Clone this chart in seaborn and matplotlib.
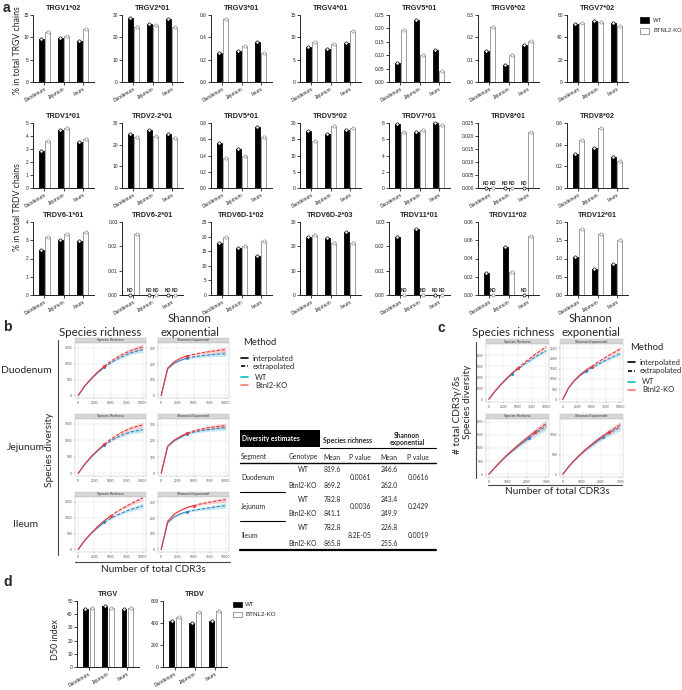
import numpy as np
import pandas as pd
import matplotlib
matplotlib.use('Agg')
import matplotlib.pyplot as plt
from matplotlib.lines import Line2D
from matplotlib.patches import Rectangle
import seaborn as sns

# ---------------------------------------------------------
# Data
# ---------------------------------------------------------
SEGMENTS = ['Duodenum', 'Jejunum', 'Ileum']
GENOTYPES = ['WT', 'BTNL2-KO']

# panel a, % of chains (None = not detected)
TRGV_GENES = ['TRGV1*02', 'TRGV2*01', 'TRGV3*01', 'TRGV4*01', 'TRGV5*01', 'TRGV6*02', 'TRGV7*02']
TRGV_WT = [[9.6, 9.8, 9.1], [28.5, 25.8, 28.0], [0.26, 0.28, 0.36], [7.8, 7.5, 8.7],
           [0.07, 0.23, 0.12], [0.14, 0.075, 0.165], [52.0, 55.0, 52.5]]
TRGV_KO = [[11.1, 10.2, 11.8], [24.7, 25.6, 24.8], [0.56, 0.32, 0.26], [9.0, 8.6, 11.4],
           [0.195, 0.10, 0.04], [0.245, 0.12, 0.185], [53.0, 54.0, 50.5]]
TRGV_MAX = [15, 30, 0.6, 15, 0.25, 0.3, 60]
TRGV_STEP = [5, 10, 0.2, 5, 0.05, 0.1, 20]

TRDV_GENES = ['TRDV1*01', 'TRDV2-2*01', 'TRDV5*01', 'TRDV5*02', 'TRDV7*01', 'TRDV8*01', 'TRDV8*02',
              'TRDV6-1*01', 'TRDV6-2*01', 'TRDV6D-1*02', 'TRDV6D-2*03', 'TRDV11*01', 'TRDV11*02', 'TRDV12*01']
TRDV_WT = [[2.85, 4.5, 3.55], [25.0, 27.0, 25.0], [0.55, 0.48, 0.75], [17.5, 16.5, 18.0],
           [7.9, 6.9, 8.0], [None, None, None], [0.31, 0.37, 0.29],
           [2.45, 3.0, 2.95], [None, None, None], [17.8, 16.0, 13.2], [23.8, 23.3, 26.0],
           [0.024, 0.027, None], [0.024, 0.053, None], [1.05, 0.70, 0.85]]
TRDV_KO = [[3.6, 4.6, 3.75], [23.5, 24.0, 23.0], [0.37, 0.40, 0.63], [14.5, 19.0, 18.5],
           [6.9, 7.2, 7.8], [None, None, 0.0215], [0.44, 0.55, 0.25],
           [3.2, 3.35, 3.45], [0.025, None, None], [20.0, 16.8, 18.5], [24.5, 21.5, 21.5],
           [None, None, None], [None, 0.025, 0.065], [1.82, 1.68, 1.52]]
TRDV_MAX = [5, 30, 0.8, 20, 8, 0.025, 0.6, 4, 0.03, 25, 30, 0.03, 0.08, 2.0]
TRDV_STEP = [1, 10, 0.2, 5, 2, 0.005, 0.2, 1, 0.01, 5, 10, 0.01, 0.02, 0.5]

# panel b, rarefaction curves (x grid, values per segment)
N_B = [0, 1000, 2000, 3000, 4000, 5000, 6000, 7000, 8000, 9000, 10000]
duo_rich_wt = [0, 290, 515, 710, 880, 1020, 1140, 1240, 1330, 1390, 1440]
duo_rich_ko = [0, 295, 530, 735, 915, 1070, 1200, 1310, 1400, 1470, 1530]
duo_shan_wt = [0, 170, 205, 225, 238, 246, 252, 257, 261, 264, 267]
duo_shan_ko = [0, 175, 215, 238, 252, 262, 270, 277, 283, 288, 292]
jej_rich_wt = [0, 270, 490, 680, 850, 980, 1090, 1180, 1250, 1290, 1320]
jej_rich_ko = [0, 280, 510, 700, 880, 1030, 1160, 1270, 1360, 1420, 1470]
jej_shan_wt = [0, 165, 200, 222, 244, 254, 262, 268, 273, 278, 282]
jej_shan_ko = [0, 168, 205, 228, 248, 261, 271, 279, 285, 290, 294]
ile_rich_wt = [0, 280, 500, 680, 850, 970, 1080, 1170, 1250, 1310, 1370]
ile_rich_ko = [0, 280, 510, 720, 900, 1050, 1190, 1310, 1420, 1520, 1620]
ile_shan_wt = [0, 170, 208, 228, 242, 250, 257, 263, 269, 275, 280]
ile_shan_ko = [0, 180, 225, 250, 268, 280, 290, 298, 305, 312, 318]
OBS_IDX_B_WT = [4, 4, 4]
OBS_IDX_B_KO = [4, 4, 5]
BAND_RICH_B = [0, 4, 8, 12, 18, 26, 36, 48, 60, 72, 85]
BAND_SHAN_B = [0, 2, 3, 4, 5, 7, 9, 11, 13, 15, 17]

# panel c, TRG (top) and TRD (bottom) curves
N_C_TOP = [0, 1000, 2000, 3000, 4000, 5000, 6000, 7000, 8000, 9000, 10000]
N_C_BOT = [0, 300, 600, 900, 1200, 1500, 1800, 2100, 2400, 2700, 3000]
trg_rich_wt = [0, 680, 1260, 1790, 2280, 2700, 3100, 3460, 3800, 4110, 4400]
trg_rich_ko = [0, 690, 1290, 1840, 2350, 2800, 3230, 3640, 4030, 4400, 4750]
trg_shan_wt = [0, 550, 900, 1160, 1360, 1530, 1690, 1840, 1980, 2110, 2230]
trg_shan_ko = [0, 560, 920, 1200, 1420, 1600, 1790, 1970, 2140, 2300, 2460]
trd_rich_wt = [0, 240, 470, 680, 870, 1050, 1220, 1380, 1540, 1690, 1840]
trd_rich_ko = [0, 245, 480, 700, 900, 1090, 1270, 1440, 1610, 1770, 1920]
trd_shan_wt = [0, 190, 350, 490, 620, 730, 840, 940, 1030, 1120, 1200]
trd_shan_ko = [0, 192, 355, 500, 635, 755, 870, 975, 1070, 1160, 1250]
OBS_IDX_C_WT = [4, 7]
OBS_IDX_C_KO = [5, 8]
BAND_RICH_C = [0, 10, 20, 30, 45, 60, 80, 100, 120, 140, 160]
BAND_SHAN_C = [0, 8, 16, 24, 32, 42, 52, 62, 72, 84, 96]

# table in panel b
TABLE_SEG = ['Duodenum', 'Jejunum', 'Ileum']
RICH_MEAN_WT = ['819.6', '782.8', '782.8']
RICH_MEAN_KO = ['869.2', '841.1', '865.8']
RICH_P = ['0.0061', '0.0036', '8.2E-05']
SHAN_MEAN_WT = ['246.6', '243.4', '226.8']
SHAN_MEAN_KO = ['262.0', '249.9', '255.6']
SHAN_P = ['0.0616', '0.2429', '0.0019']

# panel d, D50 index
D50_TRGV_WT = [44.0, 46.0, 44.0]
D50_TRGV_KO = [44.5, 44.5, 44.5]
D50_TRDV_WT = [420, 400, 415]
D50_TRDV_KO = [455, 500, 510]

# ---------------------------------------------------------
# Figure setup
# ---------------------------------------------------------
sns.set_theme(style='ticks')
plt.rcParams['font.family'] = ['Liberation Sans', 'DejaVu Sans']
SOFT = ['Lato', 'DejaVu Sans']

W, H = 682, 690
fig = plt.figure(figsize=(W / 100, H / 100), dpi=100)
fig.patch.set_facecolor('white')

WT_LINE, WT_BAND = '#3f7fc4', '#7fd0e0'
KO_LINE, KO_BAND = '#e8383d', '#f6a3a3'
KO_EDGE = '#8c8c8c'


def px_axes(x0, y0, x1, y1):
    return fig.add_axes([x0 / W, 1 - y1 / H, (x1 - x0) / W, (y1 - y0) / H])


def px_text(x, y, s, **kw):
    return fig.text(x / W, 1 - y / H, s, **kw)


def px_line(x0, y0, x1, y1, **kw):
    fig.add_artist(Line2D([x0 / W, x1 / W], [1 - y0 / H, 1 - y1 / H], **kw))


def px_rect(x0, y0, x1, y1, **kw):
    fig.add_artist(Rectangle((x0 / W, 1 - y1 / H), (x1 - x0) / W, (y1 - y0) / H, **kw))


def fmt_tick(v, step):
    dec = 0 if step >= 1 else int(np.ceil(-np.log10(step) - 1e-9))
    return f'{v:.{dec}f}'


def bar_panel(ax, title, wt, ko, ymax, step):
    rows = []
    for g, series in zip(GENOTYPES, [wt, ko]):
        for seg, v in zip(SEGMENTS, series):
            rows.append({'segment': seg, 'genotype': g, 'value': 0.0 if v is None else v})
    df = pd.DataFrame(rows)
    sns.barplot(data=df, x='segment', y='value', hue='genotype', order=SEGMENTS,
                hue_order=GENOTYPES, palette={'WT': 'black', 'BTNL2-KO': 'white'},
                width=0.7, gap=0.28, errorbar=None, legend=False,
                linewidth=0.6, edgecolor='black', ax=ax)
    for gi, (cont, series) in enumerate(zip(ax.containers, [wt, ko])):
        edge = 'black' if gi == 0 else KO_EDGE
        for bar, v in zip(cont, series):
            bar.set_edgecolor(edge)
            cx = bar.get_x() + bar.get_width() / 2
            ax.plot(cx, bar.get_height(), 'o', ms=2.3, mfc='white', mec=edge, mew=0.5,
                    clip_on=False, zorder=5)
            if v is None:
                ax.text(cx, ymax * 0.03, 'ND', fontsize=3.3, fontweight='bold',
                        ha='center', va='bottom')
    ax.set_xlim(-0.6, 2.6)
    ax.set_ylim(0, ymax)
    ticks = np.arange(0, ymax + step / 2, step)
    ax.set_yticks(ticks)
    ax.set_yticklabels([fmt_tick(t, step) for t in ticks])
    ax.set_xticks(range(3))
    ax.set_xticklabels(SEGMENTS, rotation=30, ha='right', rotation_mode='anchor')
    ax.set_xlabel('')
    ax.set_ylabel('')
    ax.set_facecolor('none')
    sns.despine(ax=ax)
    for s in ('left', 'bottom'):
        ax.spines[s].set_linewidth(0.7)
        ax.spines[s].set_color('#222222')
    ax.tick_params(labelsize=3.5, length=2, width=0.6, pad=1, colors='#222222')
    ax.set_title(title, fontsize=5.2, fontweight='bold', pad=3.5)


def curve_panel(box, strip, xs, wt, ko, iw, ik, band, ymax, ystep, xstep):
    x0, y0, x1, y1 = box
    sax = px_axes(x0, y0 - 5, x1, y0)
    sax.set_facecolor('#d6d6d6')
    sax.set_xticks([])
    sax.set_yticks([])
    for s in sax.spines.values():
        s.set_color('#bdbdbd')
        s.set_linewidth(0.3)
    sax.text(0.5, 0.5, strip, fontsize=2.4, ha='center', va='center', color='#333333',
             transform=sax.transAxes)

    ax = px_axes(x0, y0, x1, y1)
    ax.set_facecolor('white')
    xs = np.asarray(xs, float)
    band = np.asarray(band, float)
    for vals, idx, lc, bc in ((wt, iw, WT_LINE, WT_BAND), (ko, ik, KO_LINE, KO_BAND)):
        vals = np.asarray(vals, float)
        ax.fill_between(xs, vals - band, vals + band, color=bc, alpha=0.45, lw=0)
        d_int = pd.DataFrame({'n': xs[:idx + 1], 'div': vals[:idx + 1]})
        d_ext = pd.DataFrame({'n': xs[idx:], 'div': vals[idx:]})
        sns.lineplot(data=d_int, x='n', y='div', color=lc, lw=0.8, ax=ax)
        sns.lineplot(data=d_ext, x='n', y='div', color=lc, lw=0.8,
                     linestyle=(0, (3, 1.5)), ax=ax)
        ax.plot(xs[idx], vals[idx], 'o', color=lc, ms=2.2, mew=0, zorder=6)
    xmax = xs[-1]
    ax.set_xlim(-0.05 * xmax, 1.05 * xmax)
    ax.set_ylim(-0.05 * ymax, ymax)
    ax.set_xticks(np.arange(0, xmax + 1, xstep))
    ax.set_xticklabels([f'{int(t)}' for t in np.arange(0, xmax + 1, xstep)])
    ax.set_yticks(np.arange(0, ymax, ystep))
    ax.set_yticklabels([f'{int(t)}' for t in np.arange(0, ymax, ystep)])
    ax.grid(True, color='#e6e6e6', lw=0.35)
    ax.set_axisbelow(True)
    for s in ax.spines.values():
        s.set_color('#bdbdbd')
        s.set_linewidth(0.35)
    ax.tick_params(labelsize=2.4, length=1, width=0.3, pad=1, colors='#555555')
    ax.set_xlabel('')
    ax.set_ylabel('')
    return ax


# ---------------------------------------------------------
# Panel a
# ---------------------------------------------------------
px_text(3, 8, 'a', fontsize=10, fontweight='bold', va='center')
COL_X = [33, 122, 211, 300, 389, 478, 567]
ROW_Y = [(15, 82), (123, 188), (222, 295)]

for i, g in enumerate(TRGV_GENES):
    ax = px_axes(COL_X[i], ROW_Y[0][0], COL_X[i] + 61, ROW_Y[0][1])
    bar_panel(ax, g, TRGV_WT[i], TRGV_KO[i], TRGV_MAX[i], TRGV_STEP[i])

for i, g in enumerate(TRDV_GENES):
    r = 1 + i // 7
    c = i % 7
    ax = px_axes(COL_X[c], ROW_Y[r][0], COL_X[c] + 61, ROW_Y[r][1])
    bar_panel(ax, g, TRDV_WT[i], TRDV_KO[i], TRDV_MAX[i], TRDV_STEP[i])

px_text(18, 50, '% in total TRGV chains', fontsize=6.3, rotation=90, ha='center', va='center',
        family=SOFT)
px_text(18, 207, '% in total TRDV chains', fontsize=6.3, rotation=90, ha='center', va='center',
        family=SOFT)

# legend a
px_rect(640, 17, 649, 23, facecolor='black', edgecolor='black', lw=0.5)
px_text(653, 20, 'WT', fontsize=4.2, va='center')
px_rect(640, 28, 649, 34, facecolor='white', edgecolor=KO_EDGE, lw=0.6)
px_text(653, 31, 'BTNL2-KO', fontsize=4.2, va='center')

# ---------------------------------------------------------
# Panel b
# ---------------------------------------------------------
px_text(3, 327, 'b', fontsize=10, fontweight='bold', va='center')
px_text(100, 333, 'Species richness', fontsize=8.3, ha='center', va='center', family=SOFT)
px_text(190, 318, 'Shannon', fontsize=8.3, ha='center', va='center', family=SOFT)
px_text(190, 333, 'exponential', fontsize=8.3, ha='center', va='center', family=SOFT)

B_ROWS = [(343, 398), (419, 476), (497, 552)]
B_COLS = [(75, 146), (158, 229)]
b_rich = [(duo_rich_wt, duo_rich_ko), (jej_rich_wt, jej_rich_ko), (ile_rich_wt, ile_rich_ko)]
b_shan = [(duo_shan_wt, duo_shan_ko), (jej_shan_wt, jej_shan_ko), (ile_shan_wt, ile_shan_ko)]
for r in range(3):
    ya, yb = B_ROWS[r]
    curve_panel((B_COLS[0][0], ya, B_COLS[0][1], yb), 'Species Richness', N_B,
                b_rich[r][0], b_rich[r][1], OBS_IDX_B_WT[r], OBS_IDX_B_KO[r],
                BAND_RICH_B, 1650, 500, 2500)
    curve_panel((B_COLS[1][0], ya, B_COLS[1][1], yb), 'Shannon Exponential', N_B,
                b_shan[r][0], b_shan[r][1], OBS_IDX_B_WT[r], OBS_IDX_B_KO[r],
                BAND_SHAN_B, 335, 100, 2500)
    px_text(26, (ya + yb) / 2, TABLE_SEG[r], fontsize=7.5, ha='center', va='center', family=SOFT)

px_text(49, 450, 'Species diversity', fontsize=7.3, rotation=90, ha='center', va='center',
        family=SOFT)
px_line(58, 340, 58, 555, color='#444444', lw=0.8)
px_line(75, 562, 230, 562, color='#444444', lw=0.8)
px_text(153, 569, 'Number of total CDR3s', fontsize=7.3, ha='center', va='center', family=SOFT)


def method_legend(x, y_title, ys):
    px_text(x, y_title, 'Method', fontsize=6.8, va='center', family=SOFT)
    px_line(x - 2, ys[0], x + 5, ys[0], color='black', lw=1.2)
    px_text(x + 10, ys[0], 'interpolated', fontsize=5.5, va='center', family=SOFT)
    px_line(x - 2, ys[1], x + 5, ys[1], color='black', lw=1.2, linestyle=(0, (2.5, 1.2)))
    px_text(x + 10, ys[1], 'extrapolated', fontsize=5.5, va='center', family=SOFT)
    px_line(x - 2, ys[2], x + 5, ys[2], color='#00bfc4', lw=1.2)
    px_text(x + 12, ys[2], 'WT', fontsize=5.5, va='center', family=SOFT)
    px_line(x - 2, ys[3], x + 5, ys[3], color='#f8766d', lw=1.2)
    px_text(x + 12, ys[3], 'Btnl2-KO', fontsize=5.5, va='center', family=SOFT)


method_legend(243, 343, [358, 366, 377, 385])

# table
TF = dict(fontsize=4.9, va='center', family=SOFT)
px_rect(240, 430, 320, 447, facecolor='black', edgecolor='none')
px_text(242, 439, 'Diversity estimates', color='white', fontweight='bold', **TF)
px_text(348, 440, 'Species richness', ha='center', fontweight='bold', **TF)
px_text(407, 436, 'Shannon', ha='center', fontweight='bold', **TF)
px_text(407, 443, 'exponential', ha='center', fontweight='bold', **TF)
px_line(320, 447.5, 436, 447.5, color='black', lw=0.8)
px_text(241, 457, 'Segment', **TF)
for xc, lab in zip([303, 332, 360, 389, 418], ['Genotype', 'Mean', 'P value', 'Mean', 'P value']):
    px_text(xc, 457, lab, ha='center', **TF)
px_line(240, 462.5, 436, 462.5, color='black', lw=1.0)
T_ROW = [470, 499, 528]
for r in range(3):
    yw = T_ROW[r]
    yk = yw + 15
    ym = (yw + yk) / 2
    px_text(241, ym, TABLE_SEG[r], **TF)
    px_text(303, yw, 'WT', ha='center', **TF)
    px_text(303, yk, 'Btnl2-KO', ha='center', **TF)
    px_text(332, yw, RICH_MEAN_WT[r], ha='center', **TF)
    px_text(332, yk, RICH_MEAN_KO[r], ha='center', **TF)
    px_text(360, ym, RICH_P[r], ha='center', **TF)
    px_text(389, yw, SHAN_MEAN_WT[r], ha='center', **TF)
    px_text(389, yk, SHAN_MEAN_KO[r], ha='center', **TF)
    px_text(418, ym, SHAN_P[r], ha='center', **TF)
    if r < 2:
        px_line(240, yk + 7, 285, yk + 7, color='black', lw=0.8)
px_line(240, 549.5, 436, 549.5, color='black', lw=1.6)

# ---------------------------------------------------------
# Panel c
# ---------------------------------------------------------
px_text(437, 328, 'c', fontsize=10, fontweight='bold', va='center')
px_text(513, 333, 'Species richness', fontsize=8.3, ha='center', va='center', family=SOFT)
px_text(591, 318, 'Shannon', fontsize=8.3, ha='center', va='center', family=SOFT)
px_text(591, 333, 'exponential', fontsize=8.3, ha='center', va='center', family=SOFT)

curve_panel((486, 344, 549, 402), 'Species Richness', N_C_TOP, trg_rich_wt, trg_rich_ko,
            OBS_IDX_C_WT[0], OBS_IDX_C_KO[0], BAND_RICH_C, 5000, 1000, 2500)
curve_panel((560, 344, 623, 402), 'Shannon Exponential', N_C_TOP, trg_shan_wt, trg_shan_ko,
            OBS_IDX_C_WT[0], OBS_IDX_C_KO[0], BAND_SHAN_C, 2700, 500, 2500)
curve_panel((486, 419, 549, 477), 'Species Richness', N_C_BOT, trd_rich_wt, trd_rich_ko,
            OBS_IDX_C_WT[1], OBS_IDX_C_KO[1], BAND_RICH_C, 2100, 500, 1000)
curve_panel((560, 419, 623, 477), 'Shannon Exponential', N_C_BOT, trd_shan_wt, trd_shan_ko,
            OBS_IDX_C_WT[1], OBS_IDX_C_KO[1], BAND_SHAN_C, 1400, 500, 1000)

px_text(458, 415, '# total CDR3\u03b3/\u03b4s', fontsize=7.3, rotation=90, ha='center', va='center',
        family=SOFT)
px_text(468, 402, 'Species diversity', fontsize=7.3, rotation=90, ha='center', va='center',
        family=SOFT)
px_line(476, 342, 476, 478, color='#444444', lw=0.8)
px_line(488, 485, 622, 485, color='#444444', lw=0.8)
px_text(557, 491, 'Number of total CDR3s', fontsize=7.3, ha='center', va='center', family=SOFT)
method_legend(630, 348, [362, 371, 382, 390])

# ---------------------------------------------------------
# Panel d
# ---------------------------------------------------------
px_text(3, 582, 'd', fontsize=10, fontweight='bold', va='center')
ax = px_axes(77, 601, 139, 667)
bar_panel(ax, 'TRGV', D50_TRGV_WT, D50_TRGV_KO, 50, 10)
ax = px_axes(163, 601, 227, 667)
bar_panel(ax, 'TRDV', D50_TRDV_WT, D50_TRDV_KO, 600, 200)
px_text(55, 640, 'D50 index', fontsize=6.5, rotation=90, ha='center', va='center', family=SOFT)

px_rect(233, 602, 242, 607, facecolor='black', edgecolor='black', lw=0.5)
px_text(245, 605, 'WT', fontsize=4.5, va='center')
px_rect(233, 612, 242, 617, facecolor='white', edgecolor=KO_EDGE, lw=0.6)
px_text(245, 615, 'BTNL2-KO', fontsize=4.5, va='center')

fig.savefig('out.png', dpi=100, facecolor='white')
